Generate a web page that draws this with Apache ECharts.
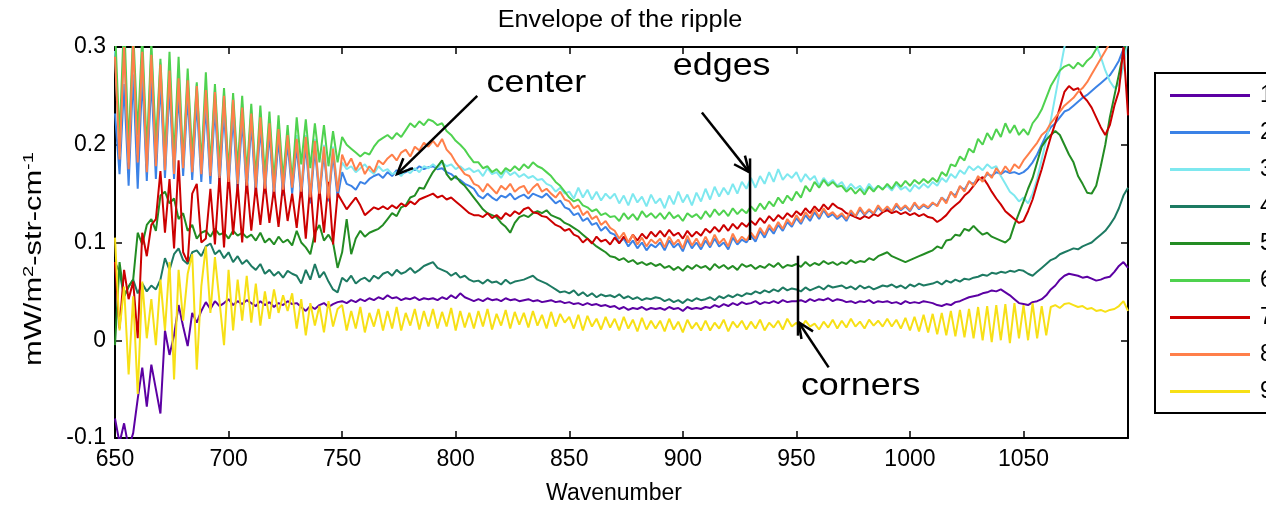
<!DOCTYPE html>
<html>
<head>
<meta charset="utf-8">
<script src="https://cdn.jsdelivr.net/npm/echarts@6/dist/echarts.min.js"></script>
<style>
  html, body { margin: 0; padding: 0; background: #ffffff; }
  #chart { width: 1266px; height: 508px; }
</style>
</head>
<body>
<div id="chart"></div>
<script>
const FONT = '"Liberation Sans", Arial, Helvetica, sans-serif';

const chartTitle = 'Envelope of the ripple';
const xAxisTitle = 'Wavenumber';
const seriesNames = ['1', '2', '3', '4', '5', '6', '7', '8', '9'];
const seriesColors = ['#5c00a3', '#3b82e6', '#7ee8ef', '#1d7a62', '#238c23',
                      '#4fd24f', '#cc0000', '#ff7f4a', '#f7e016'];
const xRange = { min: 650, max: 1096, step: 50 };
const yRange = { min: -0.1, max: 0.3, step: 0.1 };

// sampling grid: 650 ... 1096 cm-1, every 2 cm-1
const wavenumber = Array.from({ length: 224 }, (_, i) => 650 + 2 * i);

// ripple envelope per detector, in 0.001 mW/m2-str-cm-1 (one row = 20 cm-1)
const env1 = [
  -80, -105, -85, -110, -95, -60, -28, -68, -25, -50,
  -75, 10, -15, 5, 36, 14, -6, 28, 18, 30,
  39, 32, 40, 35, 38, 42, 36, 40, 37, 41,
  38, 35, 40, 36, 39, 34, 38, 36, 40, 37,
  38, 34, 30, 35, 32, 36, 38, 34, 37, 39,
  40, 38, 41, 39, 42, 40, 43, 41, 44, 42,
  46, 43, 44, 41, 43, 42, 44, 41, 43, 42,
  43, 41, 44, 42, 46, 43, 48, 44, 42, 40,
  42, 40, 43, 41, 42, 40, 43, 41, 42, 40,
  41, 42, 40, 41, 39, 40, 41, 39, 40, 38,
  39, 37, 38, 36, 38, 36, 37, 35, 36, 34,
  35, 32, 34, 31, 33, 32, 34, 31, 33, 32,
  33, 31, 34, 32, 33, 30, 34, 32, 33, 32,
  34, 33, 36, 34, 37, 35, 38, 36, 39, 37,
  38, 40, 37, 39, 38, 40, 38, 41, 39, 40,
  40, 41, 39, 42, 40, 42, 41, 43, 40, 42,
  41, 39, 40, 38, 40, 39, 41, 38, 40, 39,
  40, 38, 39, 37, 40, 38, 39, 38, 40, 39,
  38, 36, 35, 37, 36, 39, 40, 42, 44, 45,
  46, 48, 49, 51, 50, 52, 49, 46, 42, 38,
  37, 36, 39, 40, 42, 46, 52, 56, 62, 66,
  68, 67, 66, 64, 65, 63, 61, 62, 64, 65,
  70, 76, 80, 74
];
const env2 = [
  232, 170, 262, 158, 272, 155, 270, 163, 268, 165,
  264, 166, 258, 165, 252, 168, 250, 164, 244, 162,
  240, 160, 238, 158, 234, 155, 230, 152, 226, 150,
  222, 148, 218, 150, 212, 146, 206, 148, 202, 150,
  198, 146, 200, 140, 196, 145, 192, 142, 190, 146,
  172, 160, 158, 154, 162, 160, 165, 168, 170, 166,
  172, 168, 174, 170, 172, 176, 174, 178, 175, 177,
  178, 175, 176, 172, 170, 166, 164, 160, 158, 155,
  148, 145, 150, 146, 143, 148, 146, 150, 144, 147,
  149, 145, 150, 148, 146, 150, 145, 140, 143, 136,
  134, 128, 130, 122, 125, 118, 120, 112, 116, 110,
  108, 100, 104, 96, 102, 94, 100, 92, 98, 95,
  100, 92, 102, 95, 99, 91, 103, 94, 100, 93,
  102, 95, 104, 96, 100, 93, 105, 98, 103, 100,
  107, 101, 112, 105, 115, 109, 118, 112, 121, 116,
  125, 119, 128, 122, 131, 124, 133, 126, 129, 124,
  128, 122, 131, 126, 134, 128, 133, 129, 136, 131,
  135, 131, 138, 133, 137, 132, 140, 134, 138, 135,
  140, 138, 146, 142, 151, 148, 157, 154, 162, 160,
  166, 164, 170, 168, 172, 170, 173, 171, 172, 170,
  172, 176, 182, 190, 200, 210, 218, 222, 228, 234,
  236, 240, 244, 248, 251, 255, 259, 263, 267, 271,
  278, 286, 298, 310
];
const env3 = [
  296, 188, 300, 182, 302, 190, 298, 180, 296, 185,
  284, 178, 280, 176, 272, 180, 268, 176, 262, 174,
  258, 172, 256, 170, 252, 166, 248, 164, 242, 162,
  236, 160, 232, 158, 226, 156, 220, 158, 214, 158,
  210, 155, 210, 150, 206, 152, 200, 150, 198, 155,
  182, 175, 178, 172, 176, 180, 174, 170, 178, 173,
  175, 170, 172, 168, 174, 171, 176, 172, 178, 176,
  180, 176, 182, 178, 180, 175, 178, 174, 176, 172,
  174, 168, 176, 170, 172, 166, 174, 169, 172, 167,
  170, 166, 168, 164, 165, 160, 158, 152, 156, 150,
  152, 145, 156, 146, 154, 144, 152, 143, 150, 145,
  150, 140, 148, 138, 150, 141, 147, 137, 149, 140,
  145, 135, 148, 139, 152, 141, 149, 138, 151, 142,
  155, 144, 157, 147, 156, 149, 160, 150, 162, 155,
  166, 156, 168, 160, 172, 162, 175, 164, 170, 166,
  172, 162, 170, 164, 168, 158, 166, 160, 164, 158,
  162, 154, 160, 155, 158, 152, 160, 154, 158, 155,
  158, 153, 160, 154, 157, 152, 159, 155, 160, 156,
  162, 158, 166, 162, 170, 166, 174, 170, 178, 174,
  178, 174, 180, 176, 178, 168, 160, 152, 148, 142,
  146, 140, 150, 165, 185, 205, 225, 250, 275, 300,
  315, 320, 325, 322, 318, 312, 302, 290, 276, 265,
  258, 262, 280, 310
];
const env4 = [
  80, 70, 45, 55, 62, 48, 58, 50, 56, 52,
  62, 84, 72, 88, 94, 82, 78, 90, 92, 86,
  96, 99, 88, 92, 84, 90, 80, 86, 78, 82,
  76, 72, 78, 68, 72, 66, 70, 64, 71, 68,
  66, 58, 72, 62, 78, 64, 70, 60, 52, 49,
  64, 60, 66, 58, 62, 64, 60, 66, 63, 68,
  70, 66, 72, 68, 70, 74, 69, 72, 76, 78,
  80, 74, 72, 70, 66, 69, 64, 66, 62, 60,
  61, 58, 62, 59, 60, 57, 62, 58, 60, 61,
  62, 64, 66, 62, 60, 58, 55, 52, 49, 50,
  48, 51, 46, 49, 45, 48, 44, 47, 45, 46,
  44, 47, 43, 45, 42, 44, 41, 43, 42, 44,
  43, 40, 42, 39, 41, 38, 42, 40, 43, 41,
  42, 44, 41, 45, 43, 46, 44, 47, 45, 48,
  47, 50, 48, 51, 49, 52, 50, 54, 51, 53,
  52, 50, 54, 51, 53, 55, 52, 56, 54, 55,
  56, 53, 55, 52, 56, 53, 55, 52, 54, 56,
  55, 57, 54, 56, 53, 57, 55, 58, 56, 57,
  58, 60, 57, 61, 59, 62, 60, 63, 62, 64,
  65, 67, 66, 69, 68, 70, 69, 71, 70, 72,
  71, 68, 66, 70, 74, 78, 82, 84, 88, 90,
  92, 94, 93, 96, 98, 100, 104, 108, 112, 118,
  125, 135, 148, 156
];
const env5 = [
  -5, 80, 45, 55, 62, 110, 98, 118, 124, 112,
  148, 152, 140, 145, 124, 130, 112, 118, 104, 110,
  112, 106, 114, 108, 110, 104, 112, 107, 110, 105,
  108, 102, 110, 100, 104, 98, 106, 100, 103, 97,
  112, 100, 95, 88, 110, 118, 102, 108, 100, 74,
  90, 124, 88, 104, 112, 106, 110, 112, 114, 118,
  124, 130, 127, 136, 138, 146, 148, 156, 155, 164,
  172, 178, 184, 170, 164, 168, 162, 158, 152, 146,
  140, 134, 130, 128, 126, 120, 116, 110, 120, 126,
  128, 126, 130, 132, 130, 133, 128, 126, 124, 120,
  118, 115, 112, 108, 104, 100, 96, 93, 90, 86,
  85, 82, 84, 80, 82, 78, 80, 77, 79, 76,
  78, 74, 76, 72, 75, 71, 76, 73, 77, 74,
  76, 72, 78, 74, 77, 73, 76, 72, 78, 75,
  77, 73, 76, 74, 78, 75, 79, 74, 77, 76,
  78, 75, 80, 76, 79, 77, 81, 78, 80, 77,
  80, 78, 82, 79, 81, 80, 84, 82, 86, 88,
  90, 86, 84, 82, 80, 82, 84, 86, 88, 90,
  92, 96, 94, 102, 103, 108, 107, 114, 112, 117,
  112, 108, 110, 106, 104, 102, 100, 104, 118, 130,
  142, 155, 166, 182, 198, 205, 210, 214, 210, 200,
  190, 182, 168, 160, 151, 150, 158, 178, 200, 228,
  250, 272, 295, 310
];
const env6 = [
  320, 205, 330, 196, 318, 210, 312, 192, 305, 200,
  288, 190, 295, 186, 290, 182, 278, 188, 264, 180,
  274, 178, 262, 180, 258, 172, 253, 176, 250, 170,
  242, 166, 240, 168, 234, 162, 230, 164, 220, 162,
  228, 180, 226, 176, 222, 182, 220, 178, 214, 182,
  208, 200, 196, 192, 188, 192, 190, 198, 204, 207,
  210, 206, 212, 208, 215, 222, 218, 224, 220, 226,
  224, 220, 222, 214, 210, 204, 200, 195, 188, 182,
  182, 176, 178, 172, 175, 170, 176, 173, 178, 174,
  180, 176, 182, 178, 176, 172, 168, 162, 158, 152,
  146, 142, 144, 138, 136, 132, 134, 128, 130, 126,
  127, 122, 130, 124, 129, 123, 132, 126, 130, 125,
  130, 124, 131, 125, 128, 122, 130, 126, 129, 124,
  132, 126, 134, 128, 133, 127, 135, 129, 134, 130,
  137, 132, 140, 134, 142, 137, 146, 140, 148, 143,
  152, 146, 158, 152, 162, 156, 164, 158, 162, 157,
  158, 152, 156, 150, 155, 149, 157, 152, 158, 154,
  160, 155, 162, 157, 163, 158, 164, 160, 165, 161,
  166, 162, 172, 168, 180, 178, 188, 184, 196, 192,
  206, 200, 212, 205, 216, 208, 222, 212, 220, 210,
  216, 210, 222, 228, 236, 248, 260, 268, 276, 280,
  282, 278, 284, 280, 286, 290, 298, 305, 312, 318,
  320, 322, 318, 325
];
const env7 = [
  80, 12, 72, 42, 60, 2, 110, 86, 118, 124,
  173, 110, 165, 94, 184, 90, 80, 150, 160, 100,
  104, 155, 98, 168, 95, 172, 108, 160, 100, 165,
  112, 158, 118, 162, 120, 155, 116, 160, 122, 150,
  115, 158, 104, 160, 100, 156, 110, 162, 98, 150,
  142, 134, 140, 146, 138, 128, 132, 136, 134, 137,
  134, 138, 135, 140, 137, 142, 139, 144, 146, 148,
  150, 146, 148, 144, 146, 142, 138, 134, 130, 128,
  128, 126, 130, 125, 128, 124, 130, 127, 132, 129,
  134, 136, 131, 130, 127, 126, 122, 118, 116, 112,
  114, 108, 106, 100, 104, 99, 106, 101, 103, 98,
  105, 99, 106, 100, 108, 102, 109, 104, 111, 106,
  112, 106, 113, 107, 110, 104, 112, 106, 111, 107,
  114, 110, 116, 111, 118, 112, 119, 114, 120, 116,
  122, 118, 125, 120, 127, 122, 128, 124, 130, 126,
  132, 128, 135, 130, 137, 132, 139, 134, 140, 136,
  134, 130, 128, 126, 124, 127, 125, 129, 127, 131,
  133, 130, 132, 129, 131, 128, 130, 127, 129, 126,
  125, 121, 124, 128, 134, 138, 142, 148, 152, 158,
  164, 167, 160, 152, 145, 139, 132, 128, 124, 120,
  122, 132, 144, 160, 175, 192, 208, 222, 238, 254,
  260, 256, 258, 250, 245, 238, 228, 218, 210, 220,
  240, 255, 300, 230
];
const env8 = [
  290, 185, 300, 175, 305, 182, 295, 172, 292, 178,
  282, 174, 276, 170, 268, 176, 266, 172, 260, 170,
  256, 168, 254, 166, 250, 162, 246, 160, 238, 158,
  232, 156, 228, 155, 222, 152, 216, 154, 210, 156,
  206, 152, 208, 146, 204, 150, 198, 145, 196, 152,
  190, 178, 186, 174, 182, 170, 178, 172, 184, 180,
  186, 190, 184, 192, 195, 188, 198, 194, 202, 198,
  204, 198, 206, 195, 190, 182, 176, 170, 168, 160,
  158, 152, 160, 155, 150, 158, 154, 160, 152, 156,
  158, 150, 156, 160, 152, 155, 150, 146, 152, 144,
  142, 135, 138, 128, 132, 124, 127, 118, 122, 115,
  112, 104, 110, 100, 108, 98, 105, 96, 103, 99,
  104, 95, 106, 98, 103, 94, 107, 97, 104, 96,
  106, 97, 108, 99, 104, 96, 109, 100, 106, 102,
  110, 104, 115, 108, 118, 112, 121, 114, 124, 118,
  128, 121, 131, 125, 134, 126, 135, 128, 131, 126,
  130, 124, 133, 127, 136, 129, 134, 130, 138, 132,
  137, 132, 140, 134, 138, 133, 141, 135, 139, 136,
  141, 137, 146, 140, 152, 146, 158, 152, 163, 158,
  168, 162, 172, 166, 176, 170, 178, 172, 180, 176,
  184, 190, 196, 202, 210, 214, 222, 228, 234, 240,
  244, 248, 254, 258, 264, 272, 280, 288, 296, 304,
  310, 315, 320, 325
];
const env9 = [
  105, 10, 55, -35, 45, -55, 60, 2, 42, -5,
  62, 10, 80, -40, 72, 20, 68, 88, -30, 55,
  96, 28, 85, 40, -5, 72, 10, 62, 20, 66,
  18, 58, 15, 50, 22, 52, 28, 46, 30, 48,
  12, 42, 5, 38, 15, 35, 8, 40, 14, 32,
  36, 10, 30, 12, 34, 8, 28, 14, 32, 10,
  30, 12, 34, 10, 28, 15, 32, 11, 30, 14,
  32, 12, 29, 14, 33, 10, 30, 13, 28, 12,
  30, 14, 32, 11, 27, 15, 31, 12, 29, 16,
  28, 13, 30, 15, 26, 12, 29, 14, 27, 18,
  24, 12, 26, 10, 25, 14, 22, 11, 24, 13,
  22, 10, 24, 12, 21, 9, 23, 11, 20, 12,
  20, 9, 22, 11, 19, 8, 21, 12, 18, 10,
  20, 10, 18, 12, 21, 9, 19, 13, 20, 11,
  19, 12, 21, 10, 18, 13, 20, 11, 22, 14,
  18, 12, 20, 14, 17, 11, 19, 13, 21, 12,
  20, 13, 22, 14, 19, 12, 21, 15, 20, 14,
  22, 14, 21, 12, 23, 10, 24, 9, 26, 8,
  27, 6, 28, 5, 30, 4, 31, 3, 32, 2,
  34, 0, 35, -2, 36, 0, 37, -3, 38, 2,
  36, 0, 38, 2, 35, 5, 34, 36, 33, 37,
  38, 36, 34, 35, 32, 33, 30, 31, 29, 31,
  32, 35, 40, 30
];
const envelopes = [env1, env2, env3, env4, env5, env6, env7, env8, env9];

// callouts, anchored in data units (wavenumber, radiance)
const callouts = [
  { text: 'center',  at: [813.6, 0.263],  tail: [809.5, 0.250],   tip: [774.2, 0.170] },
  { text: 'edges',   at: [895.6, 0.2806], tail: [908.4, 0.233],   tip: [929.2, 0.172],
    bar: [[929.6, 0.186], [929.6, 0.1026]] },
  { text: 'corners', at: [952.0, -0.0468], tail: [964.2, -0.0277], tip: [951.0, 0.0184],
    bar: [[950.7, 0.0865], [950.7, 0.0047]] }
];

const chart = echarts.init(document.getElementById('chart'), null, { renderer: 'canvas' });

const axisLineStyle = { color: '#000', width: 2 };
const tickStyle = { show: true, inside: true, length: 7, lineStyle: { color: '#000', width: 1.5 } };
const labelFont = { fontFamily: FONT, fontSize: 23, color: '#000' };

const series = envelopes.map((vals, k) => ({
  name: seriesNames[k],
  type: 'line',
  xAxisIndex: 0,
  yAxisIndex: 0,
  data: wavenumber.map((w, i) => [w, vals[i] / 1000]),
  showSymbol: false,
  symbol: 'none',
  smooth: false,
  clip: true,
  lineStyle: { width: 2, color: seriesColors[k] },
  itemStyle: { color: seriesColors[k] },
  emphasis: { disabled: true },
  silent: true,
  z: 2
}));

const option = {
  animation: false,
  backgroundColor: '#ffffff',
  color: seriesColors,
  grid: { left: 115, right: 138, top: 47, bottom: 70, outerBoundsMode: 'none', containLabel: false },
  xAxis: [
    {
      type: 'value', position: 'bottom',
      min: xRange.min, max: xRange.max, interval: xRange.step,
      axisLine: { show: true, onZero: false, lineStyle: axisLineStyle },
      axisTick: tickStyle,
      axisLabel: Object.assign({
        margin: 10, showMaxLabel: false, showMinLabel: true,
        formatter: v => String(v)
      }, labelFont),
      splitLine: { show: false }
    },
    {
      type: 'value', position: 'top',
      min: xRange.min, max: xRange.max, interval: xRange.step,
      axisLine: { show: true, onZero: false, lineStyle: axisLineStyle },
      axisTick: tickStyle,
      axisLabel: { show: false },
      splitLine: { show: false }
    }
  ],
  yAxis: [
    {
      type: 'value', position: 'left',
      min: yRange.min, max: yRange.max, interval: yRange.step,
      axisLine: { show: true, onZero: false, lineStyle: axisLineStyle },
      axisTick: tickStyle,
      axisLabel: Object.assign({
        margin: 9,
        formatter: v => String(Math.round(v * 10) / 10)
      }, labelFont),
      splitLine: { show: false }
    },
    {
      type: 'value', position: 'right',
      min: yRange.min, max: yRange.max, interval: yRange.step,
      axisLine: { show: true, onZero: false, lineStyle: axisLineStyle },
      axisTick: tickStyle,
      axisLabel: { show: false },
      splitLine: { show: false }
    }
  ],
  legend: {
    orient: 'vertical',
    left: 1155,
    top: 73,
    padding: [11, 24, 10, 15],
    itemGap: 14,
    itemWidth: 80,
    itemHeight: 3,
    icon: 'rect',
    borderColor: '#000',
    borderWidth: 2,
    backgroundColor: '#fff',
    selectedMode: false,
    textStyle: { fontFamily: FONT, fontSize: 23, color: '#000', lineHeight: 22, padding: [0, 0, 0, 5] },
    data: seriesNames
  },
  series: series,
  graphic: [
    {
      type: 'text', x: 620, y: 21, scaleX: 1.1, silent: true,
      style: { text: chartTitle, font: '23px ' + FONT, fill: '#000',
               textAlign: 'center', align: 'center', textVerticalAlign: 'middle', verticalAlign: 'middle' }
    },
    {
      type: 'text', x: 614, y: 494, silent: true,
      style: { text: xAxisTitle, font: '23px ' + FONT, fill: '#000',
               textAlign: 'center', align: 'center', textVerticalAlign: 'middle', verticalAlign: 'middle' }
    },
    {
      type: 'text', x: 35, y: 259, rotation: Math.PI / 2, scaleX: 1.34, silent: true,
      style: {
        text: '{a|mW/m}{s|2}{a|-str-cm}{s|-1}',
        fill: '#000',
        textAlign: 'center', align: 'center', textVerticalAlign: 'middle', verticalAlign: 'middle',
        rich: {
          a: { fontSize: 23, fontFamily: FONT, lineHeight: 28, fill: '#000' },
          s: { fontSize: 15, fontFamily: FONT, lineHeight: 15, verticalAlign: 'top', fill: '#000' }
        }
      }
    }
  ]
};

chart.setOption(option);

// callout arrows and words, placed through the grid's own coordinate system
function px(p) { return chart.convertToPixel({ gridIndex: 0 }, p); }
const inkStyle = { stroke: '#000', lineWidth: 2.5, lineCap: 'butt', fill: null };
function arrowParts(tail, tip) {
  const a = px(tail), b = px(tip);
  const ang = Math.atan2(b[1] - a[1], b[0] - a[0]);
  const L = 17, spread = 0.42;
  const w1 = [b[0] - L * Math.cos(ang - spread), b[1] - L * Math.sin(ang - spread)];
  const w2 = [b[0] - L * Math.cos(ang + spread), b[1] - L * Math.sin(ang + spread)];
  return [
    { type: 'line', silent: true, z: 50, shape: { x1: a[0], y1: a[1], x2: b[0], y2: b[1] }, style: inkStyle },
    { type: 'polyline', silent: true, z: 50, shape: { points: [w1, b, w2] }, style: inkStyle }
  ];
}
const extra = [];
callouts.forEach(c => {
  arrowParts(c.tail, c.tip).forEach(g => extra.push(g));
  if (c.bar) {
    const p = px(c.bar[0]), q = px(c.bar[1]);
    extra.push({ type: 'line', silent: true, z: 50,
      shape: { x1: p[0], y1: p[1], x2: q[0], y2: q[1] }, style: inkStyle });
  }
  const t = px(c.at);
  extra.push({ type: 'text', silent: true, z: 50, x: t[0], y: t[1], scaleX: 1.12,
    style: { text: c.text, font: '32px ' + FONT, fill: '#000',
             textAlign: 'left', align: 'left', textVerticalAlign: 'middle', verticalAlign: 'middle' } });
});
chart.setOption({ graphic: option.graphic.concat(extra) });
</script>
</body>
</html>
